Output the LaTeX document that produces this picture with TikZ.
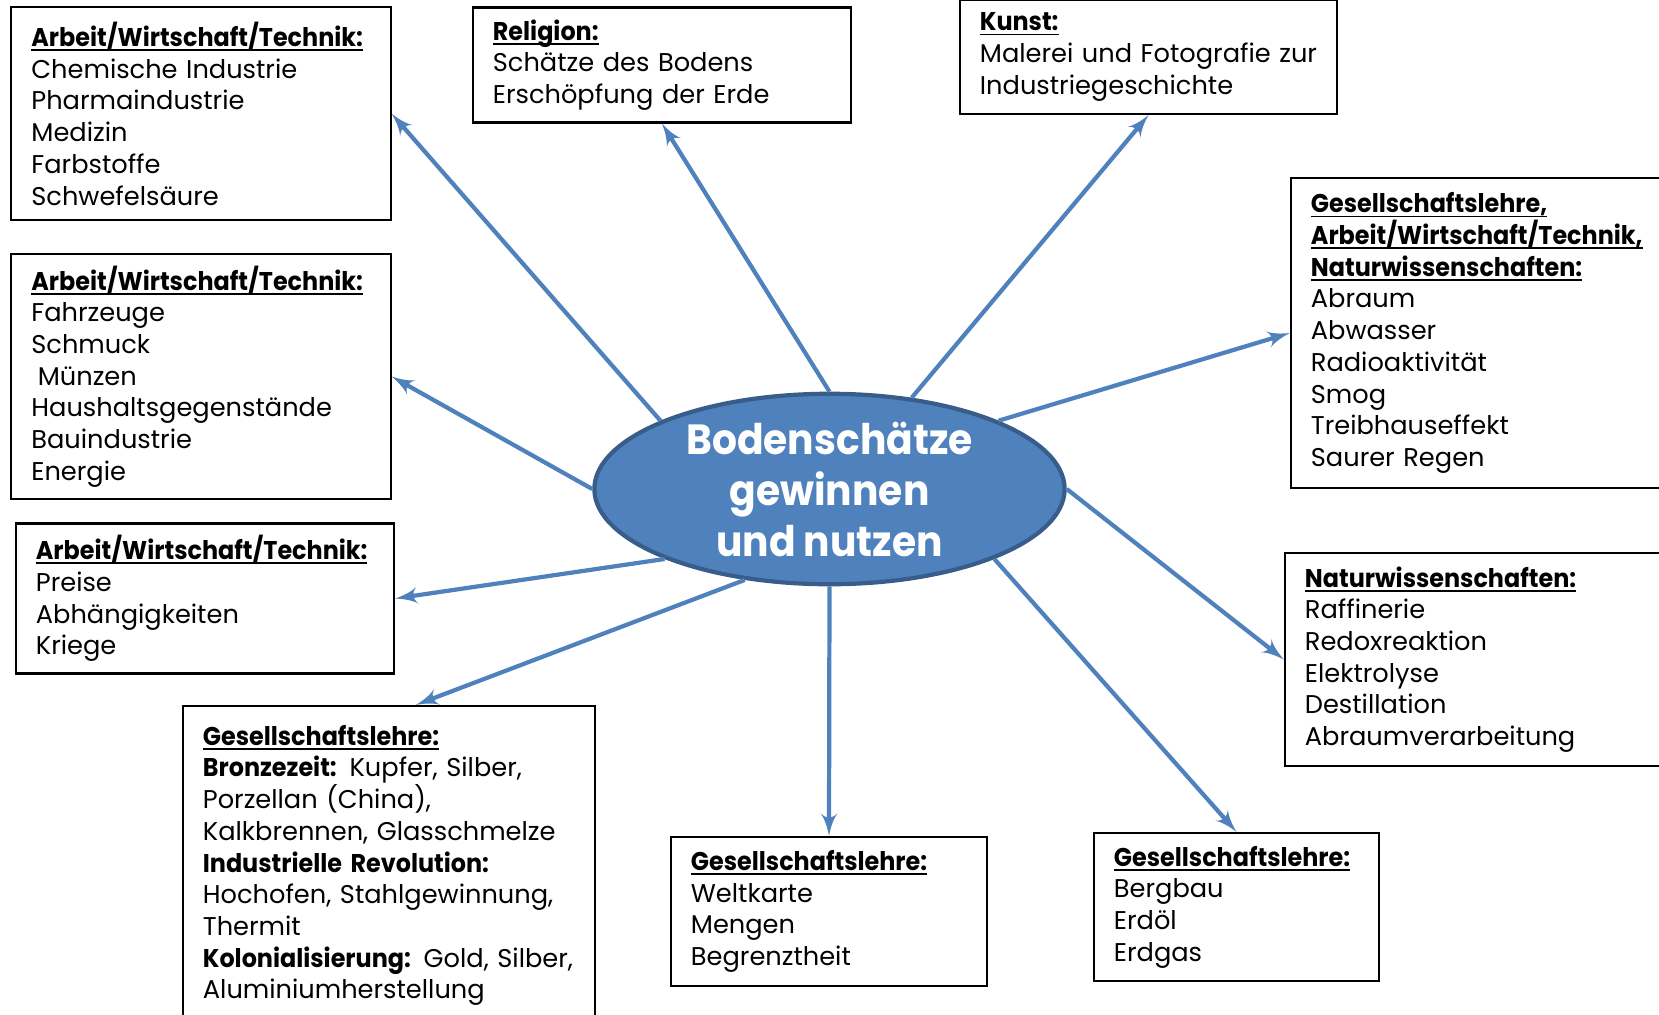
\documentclass[tikz,border=0pt]{standalone}
\usepackage{fontspec}
\setmainfont{Poppins}[BoldFeatures={FakeStretch=0.93}]
\usepackage{tikz}
\usetikzlibrary{arrows,shapes.geometric}

\definecolor{officeblue}{HTML}{4F81BD}
\definecolor{officeedge}{HTML}{385D8A}
\hyphenpenalty=10000
\exhyphenpenalty=10000
% bold heading, underline close to the baseline
\newcommand{\kopf}[1]{\leavevmode{\bfseries\setbox0\hbox{#1}\rlap{\rule[-1.3pt]{\wd0}{0.5pt}}\box0}}

\begin{document}
\begin{tikzpicture}[->,>=latex',x=0.01cm,y=-0.01cm,
                    every edge/.style={draw=officeblue,line width=1.2pt},
                    fach/.style={draw,-,line width=0.6pt,align=left,inner xsep=0.2cm,
                                 font=\fontsize{7.3}{9.02}\selectfont},
                    thema/.style={ellipse,draw=officeedge,fill=officeblue,line width=1.2pt,
                                  text=white,align=center,inner sep=0pt,
                                  minimum width=4.7cm,minimum height=1.88cm,
                                  font=\fontsize{12}{14.5}\selectfont\bfseries}]
  \useasboundingbox (0,0) rectangle (1659,1014);

  \node[thema] (ell) at (829.5,489) {Bodenschätze\\gewinnen\\und nutzen};

  \node[fach,text width=3.39cm,minimum height=2.13cm] (awt1) at (201,113.7)
    {\kopf{Arbeit/Wirtschaft/Technik:}\\Chemische Industrie\\Pharmaindustrie\\Medizin\\Farbstoffe\\Schwefelsäure};
  \node[fach,text width=3.38cm,minimum height=1.15cm] (rel) at (662,65)
    {\kopf{Religion:}\\Schätze des Bodens\\Erschöpfung der Erde};
  \node[fach,text width=3.37cm,minimum height=1.14cm] (kunst) at (1148.5,57)
    {\kopf{Kunst:}\\Malerei und Fotografie zur\\Industriegeschichte};
  \node[fach,text width=3.39cm,minimum height=3.10cm] (gan) at (1480.5,333)
    {\kopf{Gesellschaftslehre,}\\\kopf{Arbeit/Wirtschaft/Technik,}\\\kopf{Naturwissenschaften:}\\Abraum\\Abwasser\\Radioaktivität\\Smog\\Treibhauseffekt\\Saurer Regen};
  \node[fach,text width=3.39cm,minimum height=2.45cm] (awt2) at (201,376.5)
    {\kopf{Arbeit/Wirtschaft/Technik:}\\Fahrzeuge\\Schmuck\\\hspace{0.25em}Münzen\\Haushaltsgegenstände\\Bauindustrie\\Energie};
  \node[fach,text width=3.38cm,minimum height=1.47cm] (awt3) at (205,598.5)
    {\kopf{Arbeit/Wirtschaft/Technik:}\\Preise\\Abhängigkeiten\\Kriege};
  \node[fach,text width=3.72cm,minimum height=3.19cm] (gl) at (389,865.5)
    {\kopf{Gesellschaftslehre:}\\\textbf{Bronzezeit:} Kupfer, Silber,\\Porzellan (China),\\Kalkbrennen, Glasschmelze\\\textbf{Industrielle Revolution:}\\Hochofen, Stahlgewinnung,\\Thermit\\\textbf{Kolonialisierung:} Gold, Silber,\\Aluminiumherstellung};
  \node[fach,text width=3.45cm,minimum height=2.13cm] (nw) at (1477.5,659.5)
    {\kopf{Naturwissenschaften:}\\Raffinerie\\Redoxreaktion\\Elektrolyse\\Destillation\\Abraumverarbeitung};
  \node[fach,text width=2.76cm,minimum height=1.49cm] (welt) at (829,911.5)
    {\kopf{Gesellschaftslehre:}\\Weltkarte\\Mengen\\Begrenztheit};
  \node[fach,text width=2.45cm,minimum height=1.48cm] (berg) at (1236.5,907)
    {\kopf{Gesellschaftslehre:}\\Bergbau\\Erdöl\\Erdgas};

  \path (ell.158) edge (awt1.east)
        (ell.90)  edge (rel.south)
        (ell.48)  edge (kunst.south)
        (ell.22)  edge (gan.west)
        (ell.0)   edge (nw.west)
        (ell.-23) edge (berg.north)
        (ell.-90) edge (welt.north)
        (ell.-133) edge ([xshift=0.27cm]gl.north)
        (ell.203) edge (awt3.east)
        (ell.180) edge (awt2.east);

\end{tikzpicture}
\end{document}
